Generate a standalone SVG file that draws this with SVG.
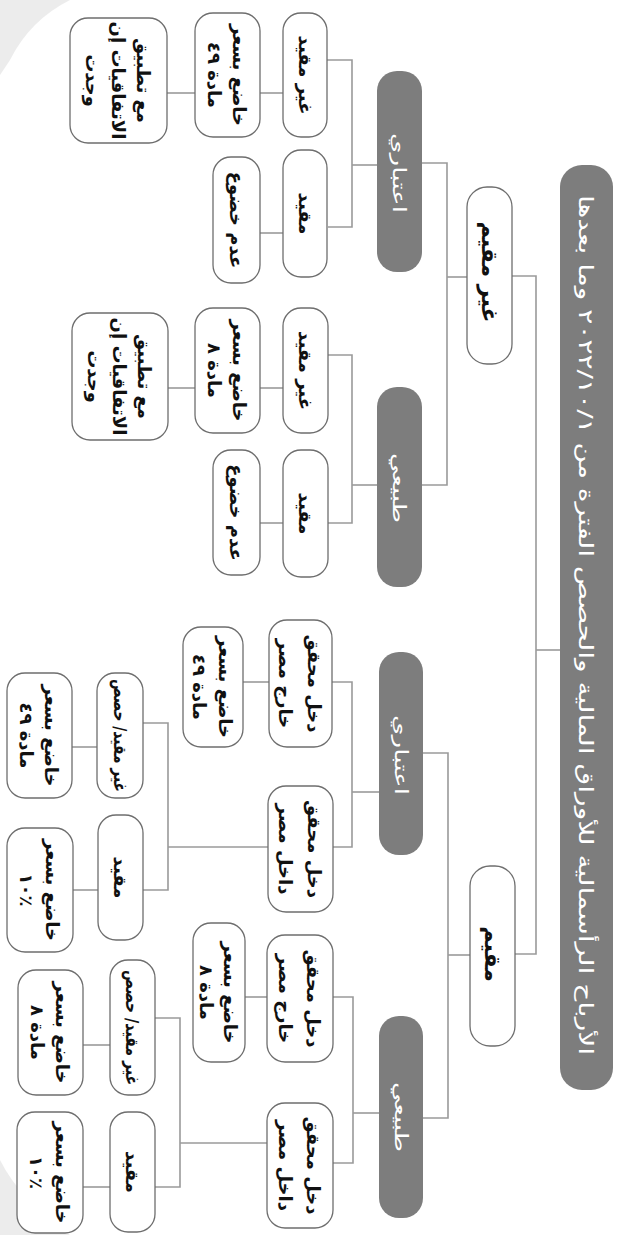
<svg xmlns="http://www.w3.org/2000/svg" width="619" height="1235" viewBox="0 0 619 1235">
<style>
.bg{fill:#ffffff}
.smudge{fill:#e4e4e4}
.gray{fill:#7d7d7d}
.box{fill:#ffffff;stroke:#6e6e6e;stroke-width:1.3}
.conn{fill:none;stroke:#9a9a9a;stroke-width:1.6}
.tw{fill:#ffffff;font-family:"DejaVu Sans",sans-serif;font-size:18px;text-anchor:middle;dominant-baseline:central}
.tt{fill:#ffffff;font-family:"DejaVu Sans",sans-serif;font-size:20px;text-anchor:middle;dominant-baseline:central}
.tb{fill:#111111;font-family:"DejaVu Sans",sans-serif;font-weight:bold;font-size:18px;text-anchor:middle;dominant-baseline:central}
.tl{fill:#111111;font-family:"DejaVu Sans",sans-serif;font-weight:bold;font-size:22px;text-anchor:middle;dominant-baseline:central}
</style>
<rect class="bg" x="0" y="0" width="619" height="1235"/>
<path class="smudge" d="M0,0 H70 Q30,20 10,60 L0,75 Z" opacity="0.7"/>
<path class="smudge" d="M0,1160 Q20,1200 70,1235 H0 Z" opacity="0.7"/>

<g id="connectors">
<path class="conn" d="M560,650 H536"/>
<path class="conn" d="M512,276 H536 V954 H515"/>
<path class="conn" d="M467,277 H447"/>
<path class="conn" d="M422,163 H447 V485 H422"/>
<path class="conn" d="M470,955 H448"/>
<path class="conn" d="M423,753 H448 V1118 H423"/>

<path class="conn" d="M327,60 H352 V227 H328"/>
<path class="conn" d="M377,165 H352"/>
<path class="conn" d="M260,93 H283"/>
<path class="conn" d="M167,93 H195"/>
<path class="conn" d="M260,233 H283"/>

<path class="conn" d="M328,355 H352 V523 H328"/>
<path class="conn" d="M352,485 H377"/>
<path class="conn" d="M260,388 H283"/>
<path class="conn" d="M168,388 H195"/>
<path class="conn" d="M260,523 H283"/>

<path class="conn" d="M332,682 H352 V847 H333"/>
<path class="conn" d="M352,792 H379"/>
<path class="conn" d="M243,682 H269"/>
<path class="conn" d="M268,847 H168"/>
<path class="conn" d="M143,723 H168 V890 H143"/>
<path class="conn" d="M72,747 H97"/>
<path class="conn" d="M73,890 H98"/>

<path class="conn" d="M333,997 H353 V1163 H333"/>
<path class="conn" d="M353,1113 H379"/>
<path class="conn" d="M245,997 H267"/>
<path class="conn" d="M267,1143 H180"/>
<path class="conn" d="M155,1018 H180 V1187 H155"/>
<path class="conn" d="M83,1045 H110"/>
<path class="conn" d="M83,1187 H110"/>
</g>

<g id="title">
<rect class="gray" x="560" y="165" width="53" height="925" rx="22"/>
<text class="tt" x="586" y="625" transform="rotate(90 586 625)" direction="rtl" textLength="860" lengthAdjust="spacingAndGlyphs">الأرباح الرأسمالية للأوراق المالية والحصص الفترة من ٢٠٢٢/١٠/١ وما بعدها</text>
</g>

<g id="nonresident">
<rect class="box" x="467" y="187" width="45" height="177" rx="20"/>
<text class="tl" x="489.5" y="272" transform="rotate(90 489.5 272)">غير مقيم</text>
</g>
<g id="resident">
<rect class="box" x="470" y="866" width="45" height="180" rx="20"/>
<text class="tl" x="492.5" y="954" transform="rotate(90 492.5 954)">مقيم</text>
</g>

<g id="nr-juridical">
<rect class="gray" x="377" y="71" width="45" height="201" rx="20"/>
<text class="tw" x="399.5" y="173" transform="rotate(90 399.5 173)" textLength="80" lengthAdjust="spacingAndGlyphs">اعتباري</text>
</g>
<g id="nr-natural">
<rect class="gray" x="377" y="387" width="45" height="200" rx="20"/>
<text class="tw" x="399.5" y="488" transform="rotate(90 399.5 488)" textLength="70" lengthAdjust="spacingAndGlyphs">طبيعي</text>
</g>
<g id="r-juridical">
<rect class="gray" x="379" y="652" width="44" height="203" rx="20"/>
<text class="tw" x="401" y="755" transform="rotate(90 401 755)" textLength="80" lengthAdjust="spacingAndGlyphs">اعتباري</text>
</g>
<g id="r-natural">
<rect class="gray" x="379" y="1016" width="44" height="202" rx="20"/>
<text class="tw" x="401" y="1117" transform="rotate(90 401 1117)" textLength="70" lengthAdjust="spacingAndGlyphs">طبيعي</text>
</g>

<!-- non-resident juridical -->
<g id="nrj-unlisted">
<rect class="box" x="283" y="13" width="44" height="124" rx="18"/>
<text class="tb" x="305" y="75" transform="rotate(90 305 75)">غير مقيد</text>
</g>
<g id="nrj-listed">
<rect class="box" x="283" y="150" width="44" height="127" rx="18"/>
<text class="tb" x="305" y="213.5" transform="rotate(90 305 213.5)">مقيد</text>
</g>
<g id="nrj-taxed">
<rect class="box" x="195" y="13" width="65" height="124" rx="18"/>
<text class="tb" x="227.5" y="75" transform="rotate(90 227.5 75)"><tspan x="227.5" dy="-0.7em">خاضع بسعر</tspan><tspan x="227.5" dy="1.4em">مادة ٤٩</tspan></text>
</g>
<g id="nrj-exempt">
<rect class="box" x="213" y="157" width="47" height="126" rx="18"/>
<text class="tb" x="236.5" y="220" transform="rotate(90 236.5 220)">عدم خضوع</text>
</g>
<g id="nrj-treaty">
<rect class="box" x="70" y="18" width="97" height="125" rx="18"/>
<text class="tb" x="118.5" y="80.5" transform="rotate(90 118.5 80.5)"><tspan x="118.5" dy="-1.4em">مع تطبيق</tspan><tspan x="118.5" dy="1.4em">الاتفاقيات إن</tspan><tspan x="118.5" dy="1.4em">وجدت</tspan></text>
</g>

<!-- non-resident natural -->
<g id="nrn-unlisted">
<rect class="box" x="283" y="308" width="45" height="125" rx="18"/>
<text class="tb" x="305.5" y="370.5" transform="rotate(90 305.5 370.5)">غير مقيد</text>
</g>
<g id="nrn-listed">
<rect class="box" x="283" y="450" width="45" height="127" rx="18"/>
<text class="tb" x="305.5" y="513.5" transform="rotate(90 305.5 513.5)">مقيد</text>
</g>
<g id="nrn-taxed">
<rect class="box" x="195" y="308" width="65" height="125" rx="18"/>
<text class="tb" x="227.5" y="370.5" transform="rotate(90 227.5 370.5)"><tspan x="227.5" dy="-0.7em">خاضع بسعر</tspan><tspan x="227.5" dy="1.4em">مادة ٨</tspan></text>
</g>
<g id="nrn-exempt">
<rect class="box" x="213" y="450" width="47" height="125" rx="18"/>
<text class="tb" x="236.5" y="512.5" transform="rotate(90 236.5 512.5)">عدم خضوع</text>
</g>
<g id="nrn-treaty">
<rect class="box" x="72" y="313" width="96" height="127" rx="18"/>
<text class="tb" x="120" y="376.5" transform="rotate(90 120 376.5)"><tspan x="120" dy="-1.4em">مع تطبيق</tspan><tspan x="120" dy="1.4em">الاتفاقيات إن</tspan><tspan x="120" dy="1.4em">وجدت</tspan></text>
</g>

<!-- resident juridical -->
<g id="rj-abroad">
<rect class="box" x="269" y="620" width="63" height="127" rx="18"/>
<text class="tb" x="300.5" y="683.5" transform="rotate(90 300.5 683.5)"><tspan x="300.5" dy="-0.8em">دخل محقق</tspan><tspan x="300.5" dy="1.6em">خارج مصر</tspan></text>
</g>
<g id="rj-egypt">
<rect class="box" x="268" y="786" width="65" height="126" rx="18"/>
<text class="tb" x="300.5" y="849" transform="rotate(90 300.5 849)"><tspan x="300.5" dy="-0.8em">دخل محقق</tspan><tspan x="300.5" dy="1.6em">داخل مصر</tspan></text>
</g>
<g id="rj-abroad-tax">
<rect class="box" x="183" y="627" width="60" height="120" rx="18"/>
<text class="tb" x="213" y="687" transform="rotate(90 213 687)"><tspan x="213" dy="-0.7em">خاضع بسعر</tspan><tspan x="213" dy="1.4em">مادة ٤٩</tspan></text>
</g>
<g id="rj-unlisted">
<rect class="box" x="97" y="673" width="46" height="125" rx="18"/>
<text class="tb" x="120" y="735.5" transform="rotate(90 120 735.5)" font-size="14" textLength="113" lengthAdjust="spacingAndGlyphs">غير مقيد/ حصص</text>
</g>
<g id="rj-listed">
<rect class="box" x="98" y="815" width="45" height="125" rx="18"/>
<text class="tb" x="120.5" y="877.5" transform="rotate(90 120.5 877.5)">مقيد</text>
</g>
<g id="rj-unlisted-tax">
<rect class="box" x="7" y="673" width="65" height="125" rx="18"/>
<text class="tb" x="39.5" y="735.5" transform="rotate(90 39.5 735.5)"><tspan x="39.5" dy="-0.7em">خاضع بسعر</tspan><tspan x="39.5" dy="1.4em">مادة ٤٩</tspan></text>
</g>
<g id="rj-listed-tax">
<rect class="box" x="7" y="828" width="66" height="124" rx="18"/>
<text class="tb" x="40" y="890" transform="rotate(90 40 890)"><tspan x="40" dy="-0.7em">خاضع بسعر</tspan><tspan x="40" dy="1.4em">١٠٪</tspan></text>
</g>

<!-- resident natural -->
<g id="rn-abroad">
<rect class="box" x="267" y="935" width="66" height="127" rx="18"/>
<text class="tb" x="300" y="998.5" transform="rotate(90 300 998.5)"><tspan x="300" dy="-0.8em">دخل محقق</tspan><tspan x="300" dy="1.6em">خارج مصر</tspan></text>
</g>
<g id="rn-egypt">
<rect class="box" x="267" y="1103" width="66" height="125" rx="18"/>
<text class="tb" x="300" y="1165.5" transform="rotate(90 300 1165.5)"><tspan x="300" dy="-0.8em">دخل محقق</tspan><tspan x="300" dy="1.6em">داخل مصر</tspan></text>
</g>
<g id="rn-abroad-tax">
<rect class="box" x="193" y="923" width="52" height="139" rx="18"/>
<text class="tb" x="219" y="992.5" transform="rotate(90 219 992.5)"><tspan x="219" dy="-0.65em">خاضع بسعر</tspan><tspan x="219" dy="1.3em">مادة ٨</tspan></text>
</g>
<g id="rn-unlisted">
<rect class="box" x="110" y="960" width="45" height="135" rx="18"/>
<text class="tb" x="132.5" y="1027.5" transform="rotate(90 132.5 1027.5)" font-size="14" textLength="115" lengthAdjust="spacingAndGlyphs">غير مقيد/ حصص</text>
</g>
<g id="rn-listed">
<rect class="box" x="110" y="1112" width="45" height="120" rx="18"/>
<text class="tb" x="132.5" y="1172" transform="rotate(90 132.5 1172)">مقيد</text>
</g>
<g id="rn-unlisted-tax">
<rect class="box" x="18" y="970" width="65" height="125" rx="18"/>
<text class="tb" x="50.5" y="1032.5" transform="rotate(90 50.5 1032.5)"><tspan x="50.5" dy="-0.7em">خاضع بسعر</tspan><tspan x="50.5" dy="1.4em">مادة ٨</tspan></text>
</g>
<g id="rn-listed-tax">
<rect class="box" x="17" y="1112" width="66" height="121" rx="18"/>
<text class="tb" x="50" y="1172.5" transform="rotate(90 50 1172.5)"><tspan x="50" dy="-0.7em">خاضع بسعر</tspan><tspan x="50" dy="1.4em">١٠٪</tspan></text>
</g>
</svg>
